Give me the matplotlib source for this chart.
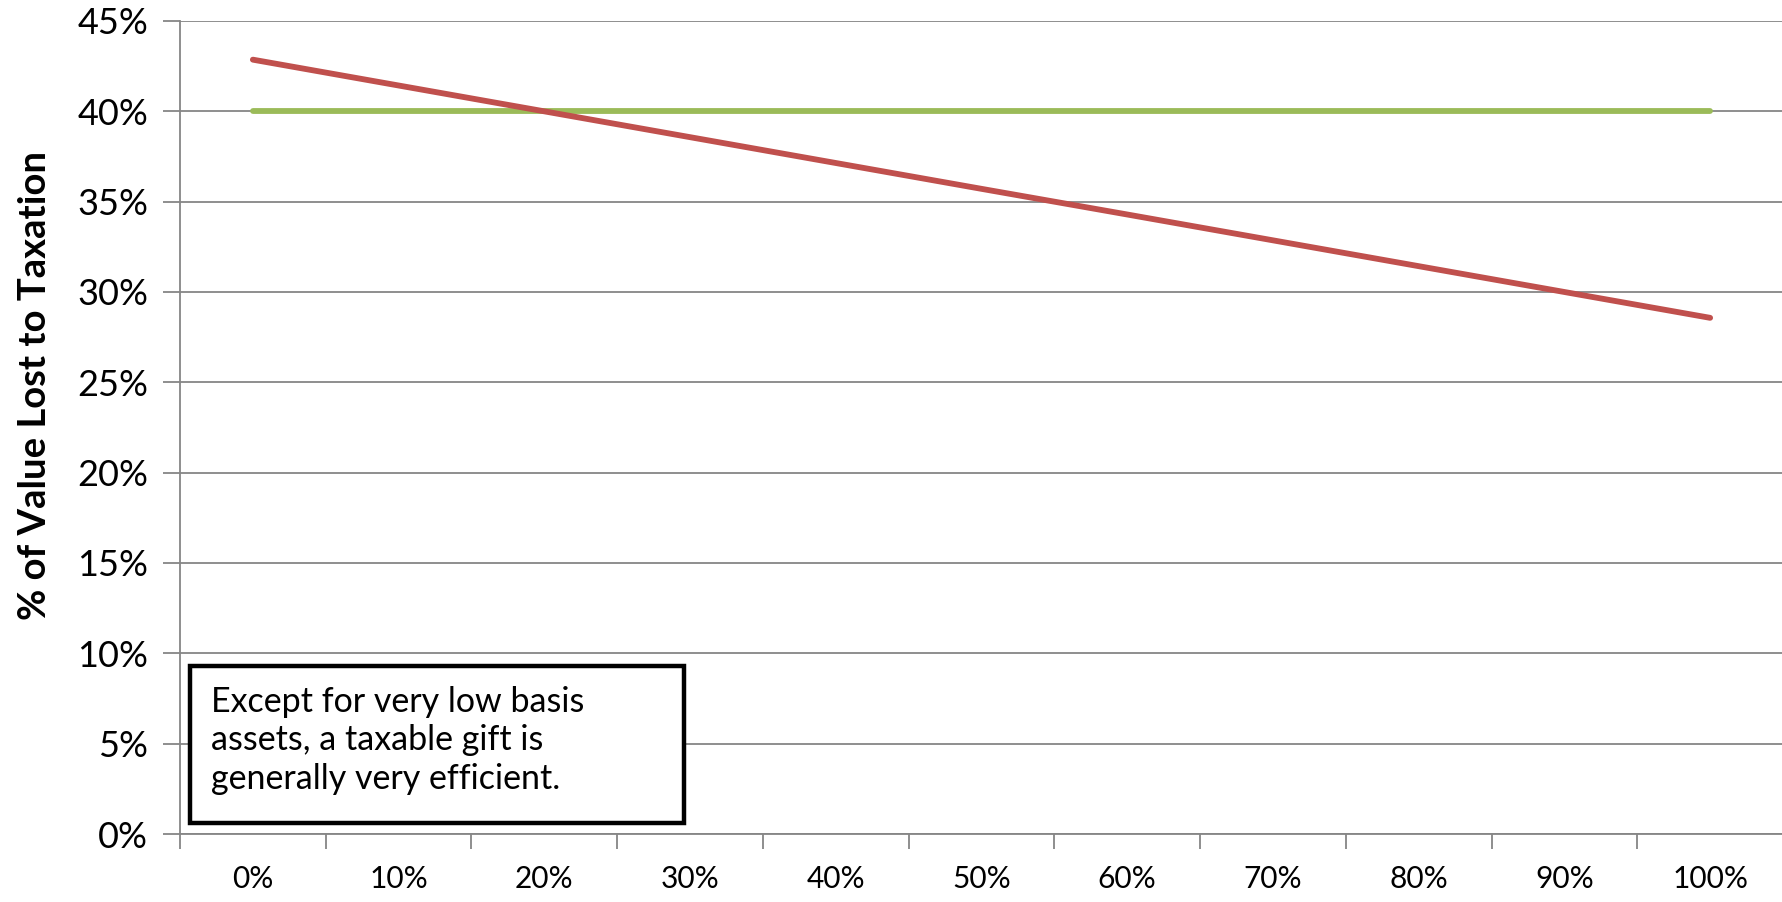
import numpy as np
import matplotlib.pyplot as plt
from matplotlib.patches import Rectangle

plt.rcParams['font.family'] = ['Lato', 'DejaVu Sans']

# data
categories = ['0%', '10%', '20%', '30%', '40%', '50%', '60%', '70%', '80%', '90%', '100%']
red_values = [42.86, 41.43, 40.00, 38.57, 37.14, 35.71, 34.29, 32.86, 31.43, 30.00, 28.57]
green_values = [40.0, 40.0, 40.0, 40.0, 40.0, 40.0, 40.0, 40.0, 40.0, 40.0, 40.0]
y_ticks = [0, 5, 10, 15, 20, 25, 30, 35, 40, 45]
y_label = '% of Value Lost to Taxation'
note = 'Except for very low basis\nassets, a taxable gift is\ngenerally very efficient.'

W, H = 1783, 902
fig = plt.figure(figsize=(W / 100, H / 100), dpi=100)
ax = fig.add_axes([180 / W, (H - 834) / H, 1 - 180 / W, (834 - 21) / H])

x = np.arange(len(categories))
ax.plot(x, green_values, color='#9BBB59', lw=4.2, solid_capstyle='round', zorder=3)
ax.plot(x, red_values, color='#C0504D', lw=4.2, solid_capstyle='round', zorder=4)

grid_c = '#868686'
ax.set_ylim(0, 45)
ax.set_yticks(y_ticks)
ax.set_yticklabels(['{}%'.format(v) for v in y_ticks])
ax.yaxis.grid(True, color=grid_c, lw=1.3)
ax.set_axisbelow(True)

# category axis: ticks between categories, labels at centres
cat_w = 146.5
ax.set_xlim(-0.5, -0.5 + (W - 180) / cat_w)
ax.set_xticks(np.arange(len(categories) + 1) - 0.5, minor=False)
ax.set_xticklabels([])
ax.set_xticks(x, minor=True)
ax.set_xticklabels(categories, minor=True)
ax.tick_params(axis='x', which='major', length=11, width=1.3, color=grid_c)
ax.tick_params(axis='x', which='minor', length=0, pad=22, labelsize=21.5)
ax.tick_params(axis='y', length=12, width=1.3, color=grid_c, pad=11, labelsize=26)

for s in ['top', 'right']:
    ax.spines[s].set_visible(False)
for s in ['left', 'bottom']:
    ax.spines[s].set_color(grid_c)
    ax.spines[s].set_linewidth(1.3)

ax.set_ylabel(y_label, fontsize=27.5, fontweight='bold')
ax.yaxis.set_label_coords(-0.08, 0.552)

# note box
bx0, by0, bx1, by1 = 190, 666, 684, 823
fig.patches.append(Rectangle((bx0 / W, (H - by1) / H), (bx1 - bx0) / W, (by1 - by0) / H,
                             transform=fig.transFigure, facecolor='white',
                             edgecolor='black', lw=3.2, zorder=10))
fig.text(211 / W, (H - 686) / H, note, fontsize=24.5, va='top', ha='left',
         linespacing=1.25, zorder=11)

fig.savefig('out.png', dpi=100)
